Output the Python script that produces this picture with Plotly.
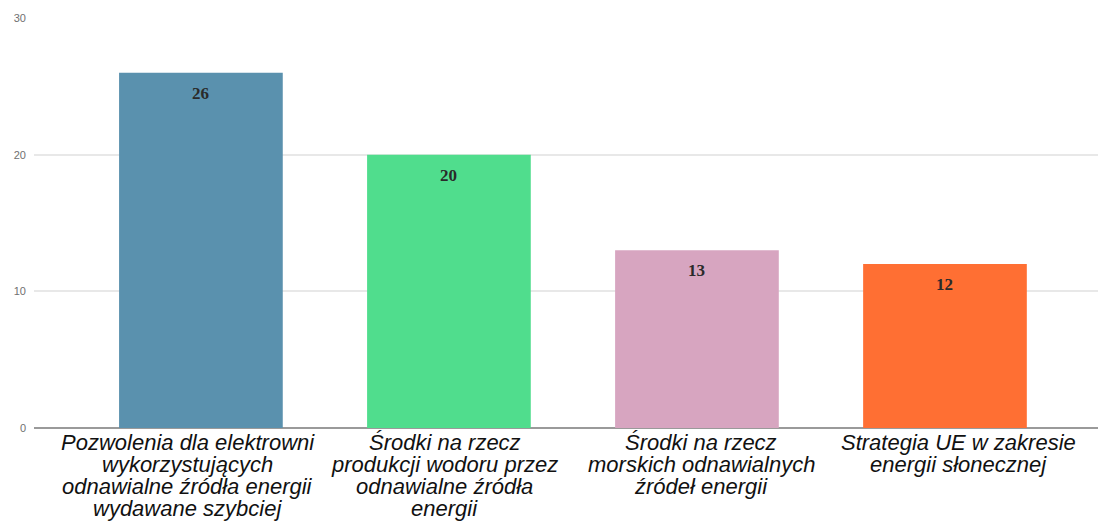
import plotly.graph_objects as go

categories = [
    "Pozwolenia dla elektrowni<br>wykorzystujących<br>odnawialne źródła energii<br>wydawane szybciej",
    "Środki na rzecz<br>produkcji wodoru przez<br>odnawialne źródła<br>energii",
    "Środki na rzecz<br>morskich odnawialnych<br>źródeł energii",
    "Strategia UE w zakresie<br>energii słonecznej",
]
values = [26, 20, 13, 12]
colors = ["#5a91ae", "#50dd8d", "#d7a5c0", "#ff6f33"]
y_ticks = [0, 10, 20, 30]

x_pos = list(range(len(categories)))

fig = go.Figure(
    go.Bar(
        x=x_pos,
        y=values,
        marker=dict(color=colors, line=dict(width=0)),
        width=0.66,
        hoverinfo="skip",
    )
)

annotations = []
# value labels inside the top of each bar
for i, v in enumerate(values):
    annotations.append(dict(
        x=i, y=v, xref="x", yref="y", text=str(v), showarrow=False,
        yanchor="top", yshift=-9,
        font=dict(family="Liberation Serif", size=17, color="#2a2a2a", weight="bold"),
    ))
# category labels, one line per annotation for tight line spacing
LINE_H = 22
LABEL_SPREAD = 8.7  # labels in the reference are spread slightly wider than the bars
n = len(categories)
for i, cat in enumerate(categories):
    for j, line in enumerate(cat.split("<br>")):
        annotations.append(dict(
            x=i, y=0, xref="x", yref="y", text=line, showarrow=False,
            yanchor="middle", yshift=-(14 + j * LINE_H),
            xshift=(i - (n - 1) / 2) * LABEL_SPREAD,
            font=dict(family="Liberation Sans", size=22, color="#111111", style="italic"),
        ))

fig.update_layout(
    width=1098,
    height=522,
    margin=dict(l=34, r=0, t=18, b=94),
    paper_bgcolor="white",
    plot_bgcolor="white",
    showlegend=False,
    font=dict(family="Liberation Sans"),
    annotations=annotations,
)
fig.update_xaxes(
    range=[-0.673, 3.617],
    showticklabels=False,
    showgrid=False,
    showline=False,
    ticks="",
    zeroline=False,
)
fig.update_yaxes(
    range=[0, 30],
    tickvals=y_ticks,
    ticktext=[str(t) for t in y_ticks],
    tickfont=dict(family="Liberation Sans", size=11, color="#707070"),
    showgrid=True,
    gridcolor="#e8e8e8",
    gridwidth=2,
    zeroline=True,
    zerolinecolor="#9a9a9a",
    zerolinewidth=1.5,
    ticks="",
    ticklabelstandoff=7,
)

fig.write_html(
    "out.html",
    config={"displayModeBar": False},
    post_script="document.body.style.margin='0';document.body.style.overflow='hidden';",
)
